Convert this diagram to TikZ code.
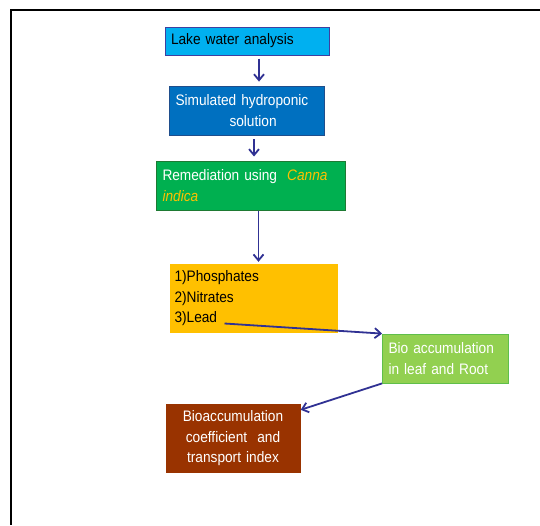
\documentclass[tikz,border=0pt]{standalone}
\usepackage{fontspec}
\setmainfont{Liberation Sans}[FakeStretch=0.9,WordSpace=0.8]
\usetikzlibrary{positioning,arrows,arrows.meta,calc}
\definecolor{lakeblue}{HTML}{00B0F0}
\definecolor{lakeline}{HTML}{3F3F9F}
\definecolor{hydroblue}{HTML}{0070C0}
\definecolor{hydroline}{HTML}{1F4E8C}
\definecolor{remgreen}{HTML}{00B050}
\definecolor{remline}{HTML}{1E7A33}
\definecolor{cannayellow}{HTML}{FFC000}
\definecolor{ionyellow}{HTML}{FFC000}
\definecolor{bioleaf}{HTML}{92D050}
\definecolor{bioline}{HTML}{5FBF4A}
\definecolor{coeffbrown}{HTML}{993300}
\definecolor{flowblue}{HTML}{303193}
\tikzstyle{stage}=[rectangle, inner xsep=6pt, inner ysep=0pt, font=\fontsize{15.2}{20.5}\selectfont, align=left]
\tikzstyle{flow}=[-{Straight Barb[length=6pt,width=10pt]}, line width=1.8pt, color=flowblue]

\begin{document}
\begin{tikzpicture}[x=1pt,y=1pt,node distance=2.5cm,on grid]
   \useasboundingbox (0,0) rectangle (540,-525);
   \draw[line width=2pt] (540,-10) -- (11,-10) -- (11,-525);
   \node[stage,fill=lakeblue,draw=lakeline,line width=1pt,minimum width=164pt,minimum height=28pt,text width=152pt] (lake) at (247,-41) {Lake water analysis};
   \node[stage,fill=hydroblue,draw=hydroline,line width=0.8pt,text=white,minimum width=155pt,minimum height=49pt,text width=143pt] (hydro) [below=69.5pt of lake] {Simulated hydroponic\\\hspace*{54pt}solution};
   \node[stage,fill=remgreen,draw=remline,line width=1pt,text=white,minimum width=189pt,minimum height=49pt,text width=177pt] (remed) [below right=75pt and 4pt of hydro] {Remediation using\ \ \textcolor{cannayellow}{\itshape Canna}\\\textcolor{cannayellow}{\itshape indica}};
   \node[stage,fill=ionyellow,minimum width=168pt,minimum height=69pt,text width=158pt,inner xsep=5pt] (ions) [below right=113pt and 2.5pt of remed] {1)Phosphates\\2)Nitrates\\3)Lead};
   \node[stage,fill=bioleaf,draw=bioline,line width=0.8pt,text=white,minimum width=126pt,minimum height=49pt,text width=114pt] (bioacc) [below right=60pt and 192pt of ions] {Bio accumulation\\in leaf and Root};
   \node[stage,fill=coeffbrown,text=white,align=center,minimum width=135pt,minimum height=69pt,text width=123pt] (coeff) [below left=80pt and 212.5pt of bioacc] {Bioaccumulation\\coefficient\ \ and\\transport index};
   \coordinate (lead) at ([shift={(-29pt,-25pt)}]ions.center);
   \path[flow]
    ([xshift=12pt]lake.south) edge[shorten <=3pt,shorten >=4pt] ([xshift=12pt]lake.south |- hydro.north)
    ([xshift=7pt]hydro.south) edge[shorten <=4pt,shorten >=4pt] ([xshift=7pt]hydro.south |- remed.north)
    ([xshift=7.5pt]remed.south) edge[shorten >=2pt] ([xshift=7.5pt]remed.south |- ions.north)
    (lead) edge (bioacc.north west)
    (bioacc.south west) edge ([yshift=-6pt]coeff.north east);
\end{tikzpicture}
\end{document}
